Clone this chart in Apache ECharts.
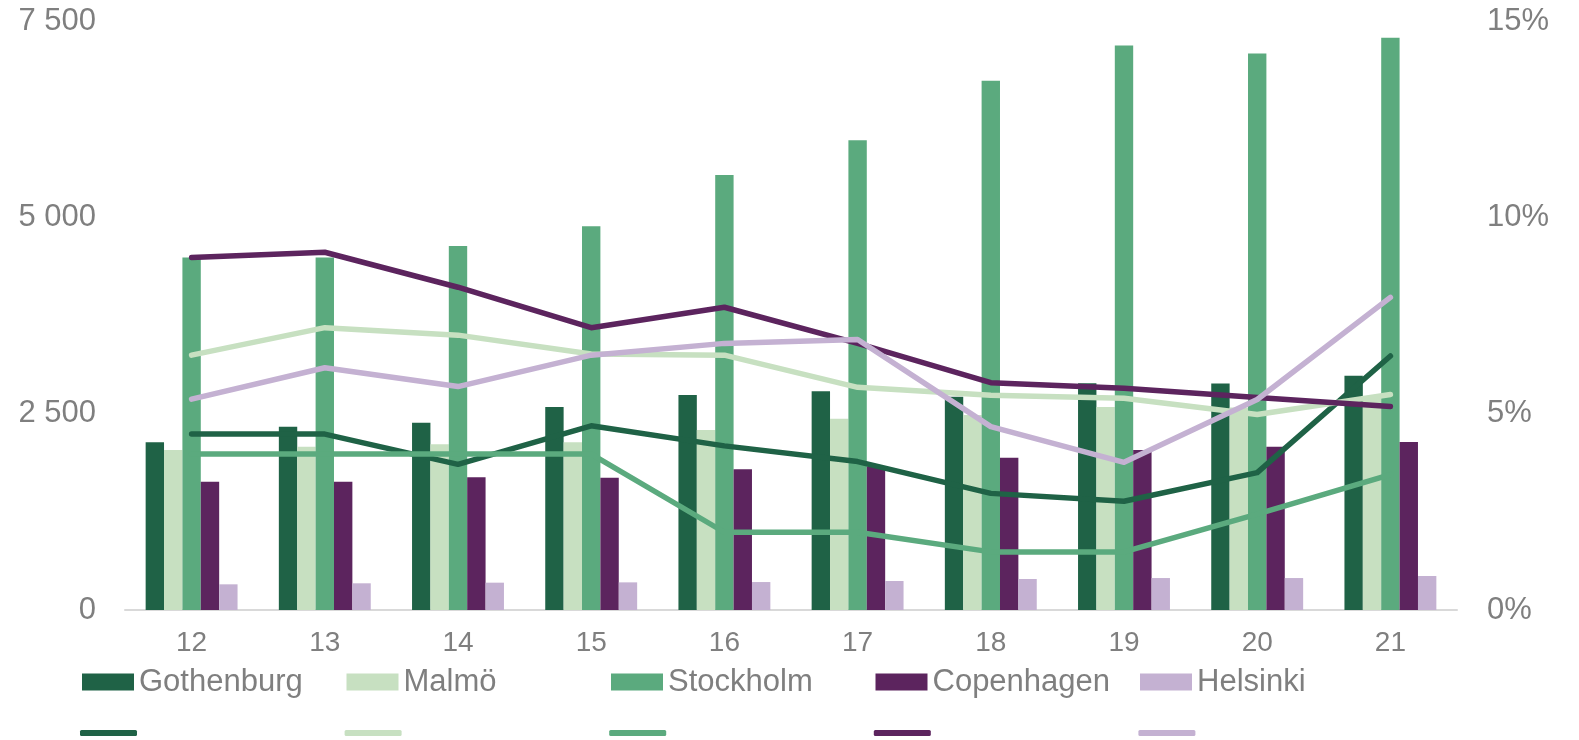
<!DOCTYPE html>
<html>
<head>
<meta charset="utf-8">
<script src="https://cdn.jsdelivr.net/npm/echarts@6/dist/echarts.min.js"></script>
<style>
  html, body { margin: 0; padding: 0; background: #fff; }
  #chart { width: 1579px; height: 740px; }
</style>
</head>
<body>
<div id="chart"></div>
<script>
const categories = ['12', '13', '14', '15', '16', '17', '18', '19', '20', '21']
const cities = ['Gothenburg', 'Malmö', 'Stockholm', 'Copenhagen', 'Helsinki']
const colors = ['#1F6246', '#C7E0C1', '#5BAA7E', '#5C245E', '#C4B1D2']

// bars, left axis
const gothenburg = [2135, 2334, 2385, 2584, 2737, 2784, 2716, 2886, 2883, 2984]
const malmo = [2037, 2079, 2109, 2135, 2291, 2436, 2482, 2584, 2580, 2720]
const stockholm = [4490, 4490, 4634, 4888, 5538, 5983, 6739, 7189, 7086, 7287]
const copenhagen = [1633, 1633, 1689, 1684, 1791, 1830, 1939, 2037, 2078, 2139]
const helsinki = [327, 340, 348, 352, 356, 369, 395, 407, 407, 433]

// lines, right axis (%)
const gothenburgPct = [4.48, 4.48, 3.71, 4.69, 4.18, 3.78, 2.97, 2.77, 3.5, 6.47]
const malmoPct = [6.49, 7.19, 7.0, 6.52, 6.49, 5.67, 5.47, 5.39, 4.98, 5.49]
const stockholmPct = [3.97, 3.97, 3.97, 3.97, 1.98, 1.98, 1.48, 1.48, 2.44, 3.45]
const copenhagenPct = [8.98, 9.11, 8.22, 7.19, 7.71, 6.79, 5.79, 5.65, 5.41, 5.18]
const helsinkiPct = [5.37, 6.17, 5.69, 6.49, 6.79, 6.89, 4.67, 3.76, 5.36, 7.96]

const leftTicks = { min: 0, max: 7500, interval: 2500 }
const rightTicks = { min: 0, max: 15, interval: 5 }

const barData = [gothenburg, malmo, stockholm, copenhagen, helsinki]
const lineData = [gothenburgPct, malmoPct, stockholmPct, copenhagenPct, helsinkiPct]

const gray = '#7F7F7F'
const font = 'Liberation Sans'

const barSeries = cities.map((name, i) => ({
  name: name,
  type: 'bar',
  data: barData[i],
  itemStyle: { color: colors[i] },
  barGap: '0%',
  barCategoryGap: '31%'
}))

const lineSeries = cities.map((name, i) => ({
  name: name + ' %',
  type: 'line',
  yAxisIndex: 1,
  data: lineData[i],
  symbol: 'none',
  color: colors[i],
  lineStyle: { color: colors[i], width: 5.5, cap: 'round', join: 'round' },
  z: 3
}))

const chart = echarts.init(document.getElementById('chart'))
chart.setOption({
  animation: false,
  textStyle: { fontFamily: font },
  grid: { left: 125, right: 122, top: 21, bottom: 130 },
  legend: [
    {
      data: cities,
      left: 82,
      top: 664,
      padding: 0,
      icon: 'rect',
      itemWidth: 52,
      itemHeight: 17,
      itemGap: 0,
      textStyle: { color: gray, fontSize: 31, fontFamily: font, width: 207.5, lineHeight: 36 }
    },
    {
      data: cities.map(c => c + ' %'),
      left: 80,
      top: 730,
      padding: 0,
      icon: 'roundRect',
      itemWidth: 57,
      itemHeight: 6,
      itemGap: 202.6,
      formatter: () => '',
      textStyle: { fontSize: 6, lineHeight: 6 }
    }
  ],
  xAxis: {
    type: 'category',
    data: categories,
    axisLine: { lineStyle: { color: '#D9D9D9', width: 2 } },
    axisTick: { show: false },
    axisLabel: { color: gray, fontSize: 28, fontFamily: font, margin: 19 }
  },
  yAxis: [
    {
      type: 'value',
      min: leftTicks.min,
      max: leftTicks.max,
      interval: leftTicks.interval,
      splitLine: { show: false },
      axisLine: { show: false },
      axisTick: { show: false },
      axisLabel: {
        color: gray,
        fontSize: 31,
        fontFamily: font,
        margin: 29,
        formatter: v => String(v).replace(/\B(?=(\d{3})+(?!\d))/g, ' ')
      }
    },
    {
      type: 'value',
      min: rightTicks.min,
      max: rightTicks.max,
      interval: rightTicks.interval,
      splitLine: { show: false },
      axisLine: { show: false },
      axisTick: { show: false },
      axisLabel: { color: gray, fontSize: 31, fontFamily: font, margin: 30, formatter: '{value}%' }
    }
  ],
  series: barSeries.concat(lineSeries)
})
</script>
</body>
</html>
